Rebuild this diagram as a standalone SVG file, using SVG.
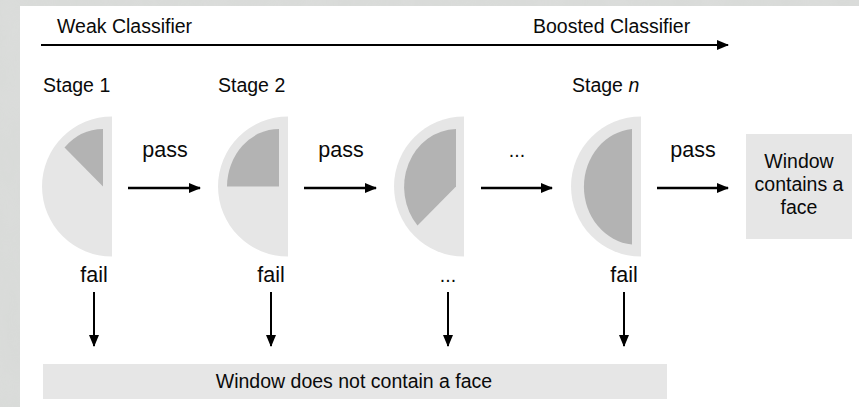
<svg xmlns="http://www.w3.org/2000/svg" width="859" height="407" viewBox="0 0 859 407">
  <defs>
    <style>
      text { font-family: "Liberation Sans", Arial, sans-serif; fill: #0a0a0a; }
      .lbl { font-size: 19.5px; }
      .big { font-size: 21.5px; }
      .mid { text-anchor: middle; }
      .outer { fill: #e6e6e6; }
      .inner { fill: #b3b3b3; }
      .box { fill: #e6e6e6; }
      .conn { stroke: #000; stroke-width: 2.6; fill: none; }
      .thin { stroke: #000; stroke-width: 2; fill: none; }
    </style>
    <marker id="head" viewBox="0 0 12 10" refX="11" refY="5" markerWidth="12" markerHeight="10" markerUnits="userSpaceOnUse" orient="auto">
      <path d="M0,0 L12,5 L0,10 Z" fill="#000"/>
    </marker>
    <filter id="grain" x="0" y="0" width="100%" height="100%">
      <feTurbulence type="fractalNoise" baseFrequency="0.03 0.012" numOctaves="3" seed="4"/>
      <feColorMatrix type="matrix" values="0 0 0 0 0.74  0 0 0 0 0.75  0 0 0 0 0.74  0 0 0 -1.2 1.0"/>
    </filter>
  </defs>

  <!-- faded backdrop behind the panel -->
  <rect x="0" y="0" width="859" height="407" fill="#d8dad8"/>
  <rect x="0" y="0" width="859" height="407" filter="url(#grain)" opacity="0.5"/>
  <rect x="20" y="6" width="839" height="401" fill="#fff"/>

  <!-- classifier strength header -->
  <g id="header">
    <text class="lbl" x="57" y="33">Weak Classifier</text>
    <text class="lbl" x="533" y="33">Boosted Classifier</text>
  </g>

  <!-- stage 1 -->
  <g id="stage1">
    <text class="lbl" x="43" y="92">Stage 1</text>
    <path class="outer" d="M112,116.5 A70,70 0 0 0 112,256.5 Z"/>
    <path class="inner" d="M103,186.5 L103,129 A53,58 0 0 0 64.5,147.5 Z"/>
  </g>

  <!-- stage 2 -->
  <g id="stage2">
    <text class="lbl" x="218" y="92">Stage 2</text>
    <path class="outer" d="M288,116.5 A70,70 0 0 0 288,256.5 Z"/>
    <path class="inner" d="M279,186.5 L279,129 A52,58 0 0 0 227,186.5 Z"/>
  </g>

  <!-- intermediate stage -->
  <g id="stage3">
    <path class="outer" d="M464,116.5 A70,70 0 0 0 464,256.5 Z"/>
    <path class="inner" d="M456,186.5 L456,129 A53,58 0 0 0 417.5,225.5 Z"/>
  </g>

  <!-- stage n -->
  <g id="stageN">
    <text class="lbl" x="572" y="92">Stage <tspan font-style="italic">n</tspan></text>
    <path class="outer" d="M641,116.5 A70,70 0 0 0 641,256.5 Z"/>
    <path class="inner" d="M632,129 A53,58 0 0 0 632,244.5 Z"/>
  </g>

  <!-- accepted window -->
  <g id="face">
    <rect class="box" x="746" y="134" width="106" height="105"/>
    <text class="lbl mid" x="799" y="168">Window</text>
    <text class="lbl mid" x="799" y="191">contains a</text>
    <text class="lbl mid" x="799" y="214">face</text>
  </g>

  <!-- rejected window -->
  <g id="noface">
    <rect class="box" x="43" y="364" width="624" height="35"/>
    <text class="lbl mid" x="354" y="388">Window does not contain a face</text>
  </g>

  <!-- connectors and their labels -->
  <g id="connectors">
    <line class="thin" x1="41" y1="45" x2="728" y2="45" marker-end="url(#head)"/>

    <line class="conn" x1="128" y1="188" x2="200" y2="188" marker-end="url(#head)"/>
    <line class="conn" x1="304" y1="188" x2="376" y2="188" marker-end="url(#head)"/>
    <line class="conn" x1="481" y1="188" x2="552" y2="188" marker-end="url(#head)"/>
    <line class="conn" x1="657" y1="188" x2="728" y2="188" marker-end="url(#head)"/>
    <text class="big mid" x="165" y="157">pass</text>
    <text class="big mid" x="341" y="157">pass</text>
    <text class="lbl mid" x="517" y="157">...</text>
    <text class="big mid" x="693" y="157">pass</text>

    <line class="thin" x1="94" y1="292" x2="94" y2="346" marker-end="url(#head)"/>
    <line class="thin" x1="271" y1="292" x2="271" y2="346" marker-end="url(#head)"/>
    <line class="thin" x1="448" y1="292" x2="448" y2="346" marker-end="url(#head)"/>
    <line class="thin" x1="624" y1="292" x2="624" y2="346" marker-end="url(#head)"/>
    <text class="big mid" x="94" y="282">fail</text>
    <text class="big mid" x="271" y="282">fail</text>
    <text class="lbl mid" x="448" y="282">...</text>
    <text class="big mid" x="624" y="282">fail</text>
  </g>
</svg>
